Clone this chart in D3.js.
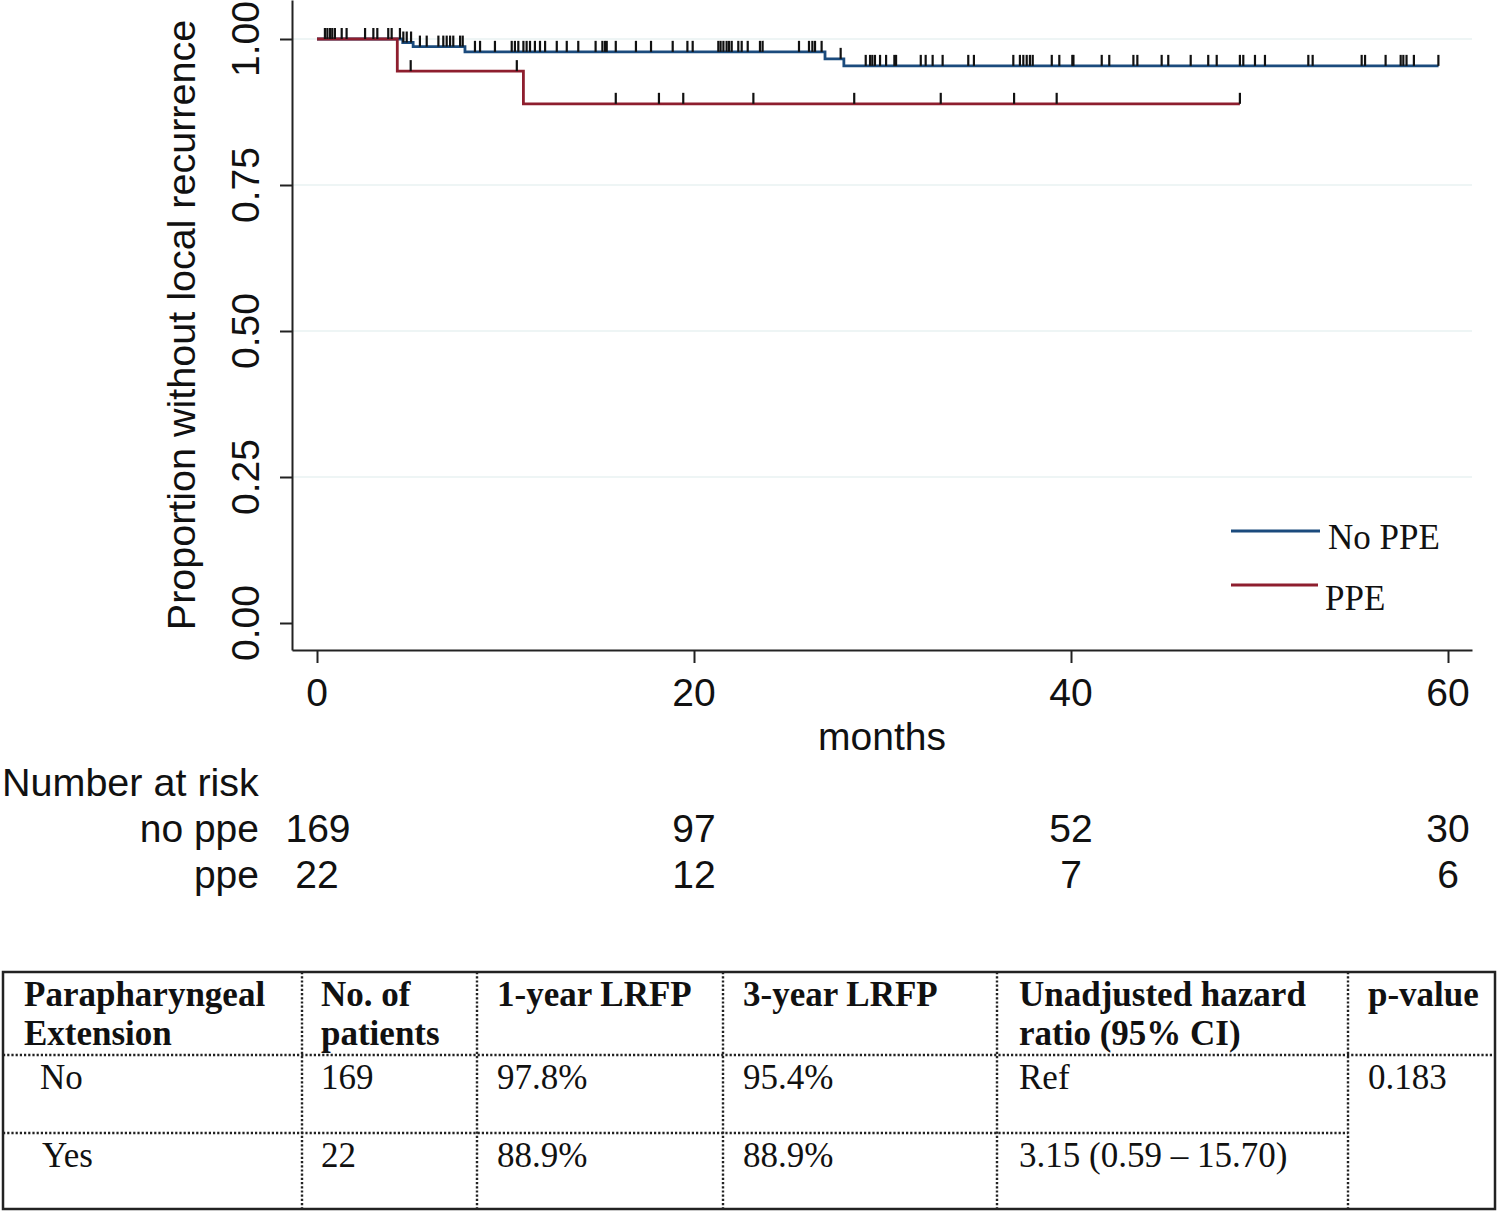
<!DOCTYPE html>
<html><head><meta charset="utf-8">
<script src="https://cdn.jsdelivr.net/npm/d3@7"></script>
<style>
html,body{margin:0;padding:0;background:#fff;}
svg{display:block;}
.sans{font-family:"Liberation Sans",Arial,Helvetica,sans-serif;}
.serif{font-family:"Liberation Serif","Times New Roman",serif;}
</style></head>
<body>
<svg id="chart" width="1500" height="1215"></svg>
<script>
// ---------- data ----------
const xTicks = [0, 20, 40, 60];
const yTicks = [0, 0.25, 0.5, 0.75, 1];
const yTickLabels = ["0.00", "0.25", "0.50", "0.75", "1.00"];
// step changes [month, survival]
const noPpeSteps = [[0, 1], [4.55, 0.994], [5.1, 0.987], [7.85, 0.978], [26.95, 0.966], [27.95, 0.954]];
const noPpeEnd = 59.5;
const ppeSteps = [[0, 1], [4.26, 0.945], [10.95, 0.889]];
const ppeEnd = 48.96;
const noPpeCensored = [0.42,0.55,0.69,0.81,0.95,1.31,1.57,2.55,2.99,3.2,3.78,3.96,4.4,4.58,4.76,4.99,5.46,5.82,6.44,6.7,6.88,7.06,7.23,7.59,7.73,8.38,8.65,9.44,10.33,10.5,10.68,10.95,11.12,11.3,11.56,11.83,12.1,12.72,13.25,13.86,14.78,15.14,15.28,15.37,15.85,16.92,17.72,18.87,19.65,19.93,21.29,21.41,21.56,21.73,21.86,22.0,22.35,22.53,22.85,23.5,23.64,25.57,26.1,26.28,26.42,26.77,27.78,29.11,29.34,29.46,29.6,29.87,30.19,30.63,30.72,32.03,32.29,32.66,33.19,34.55,34.85,36.94,37.29,37.47,37.65,37.82,37.97,38.98,39.38,40.07,40.13,41.63,42.03,43.31,43.52,44.81,45.16,46.35,47.28,47.73,48.96,49.14,49.76,50.29,52.59,52.82,55.42,55.6,56.69,57.49,57.63,57.8,58.19,59.49];
const ppeCensored = [4.97, 10.6, 15.85, 18.14, 19.43, 23.15, 28.5, 33.09, 36.98, 39.24, 48.96];
const seriesNames = ["No PPE", "PPE"];
const riskTimes = [0, 20, 40, 60];
const riskRowLabels = ["no ppe", "ppe"];
const riskNoPpe = [169, 97, 52, 30];
const riskPpe = [22, 12, 7, 6];
const tableHeader = [["Parapharyngeal", "Extension"], ["No. of", "patients"], ["1-year LRFP"], ["3-year LRFP"], ["Unadjusted hazard", "ratio (95% CI)"], ["p-value"]];
const tableRowNames = ["No", "Yes"];
const tablePatients = ["169", "22"];
const tableLrfp1 = ["97.8%", "88.9%"];
const tableLrfp3 = ["95.4%", "88.9%"];
const tableHR = ["Ref", "3.15 (0.59 \u2013 15.70)"];
const tablePValue = "0.183";

// ---------- layout ----------
const svg = d3.select("#chart");
const colBlue = "#1b4b7d", colRed = "#8e1e2e";
const axisLeftX = 292, axisBottomY = 650, axisRightX = 1472;
const x = d3.scaleLinear().domain([-25/18.85, (1472-317)/18.85]).range([axisLeftX, axisRightX]);
const y = d3.scaleLinear().domain([-(650-623)/584, 1 + 39/584]).range([axisBottomY, 0]);

// gridlines
svg.append("g").selectAll("line").data(yTicks.filter(d => d > 0)).join("line")
  .attr("x1", axisLeftX + 1).attr("x2", axisRightX)
  .attr("y1", d => y(d)).attr("y2", d => y(d))
  .attr("stroke", "#e8f2f2").attr("stroke-width", 1.5);

// axes
const yAxis = d3.axisLeft(y).tickValues(yTicks).tickSizeInner(12).tickSizeOuter(0).tickFormat("");
const gy = svg.append("g").attr("transform", `translate(${axisLeftX},0)`).call(yAxis);
const xAxis = d3.axisBottom(x).tickValues(xTicks).tickSizeInner(13).tickSizeOuter(0).tickFormat("");
const gx = svg.append("g").attr("transform", `translate(0,${axisBottomY})`).call(xAxis);
[gx, gy].forEach(g => { g.selectAll("path,line").attr("stroke", "#222").attr("stroke-width", 2); });

// y tick labels (rotated)
svg.append("g").selectAll("text").data(yTicks).join("text")
  .attr("class", "sans")
  .attr("transform", d => `translate(259,${y(d)}) rotate(-90)`)
  .attr("text-anchor", "middle").attr("font-size", 39).attr("fill", "#111")
  .text((d, i) => yTickLabels[i]);
// x tick labels
svg.append("g").selectAll("text").data(xTicks).join("text")
  .attr("class", "sans").attr("x", d => x(d)).attr("y", 706)
  .attr("text-anchor", "middle").attr("font-size", 39).attr("fill", "#111")
  .text(d => d);
// axis titles
svg.append("text").attr("class", "sans")
  .attr("transform", `translate(195,325) rotate(-90)`)
  .attr("text-anchor", "middle").attr("font-size", 39.5).attr("fill", "#111")
  .text("Proportion without local recurrence");
svg.append("text").attr("class", "sans").attr("x", (axisLeftX + axisRightX) / 2).attr("y", 750)
  .attr("text-anchor", "middle").attr("font-size", 39).attr("fill", "#111").text("months");

// survival curves
function stepData(steps, end) { return steps.concat([[end, steps[steps.length - 1][1]]]); }
function survAt(steps, t) { let s = 1; for (const [tt, v] of steps) { if (tt <= t) s = v; } return s; }
const line = d3.line().x(d => x(d[0])).y(d => y(d[1])).curve(d3.curveStepAfter);

const series = [
  {steps: noPpeSteps, end: noPpeEnd, cens: noPpeCensored, color: colBlue},
  {steps: ppeSteps, end: ppeEnd, cens: ppeCensored, color: colRed}
];
series.forEach(s => {
  svg.append("path").datum(stepData(s.steps, s.end))
    .attr("d", line).attr("fill", "none").attr("stroke", s.color).attr("stroke-width", 2.8);
});
series.forEach(s => {
  svg.append("g").selectAll("line").data(s.cens).join("line")
    .attr("x1", d => x(d)).attr("x2", d => x(d))
    .attr("y1", d => y(survAt(s.steps, d))).attr("y2", d => y(survAt(s.steps, d)) - 11)
    .attr("stroke", "#111").attr("stroke-width", 2.2);
});

// legend
const legend = svg.append("g");
[[531, 549, 1320, 1328], [585, 610, 1318, 1325]].forEach((p, i) => {
  legend.append("line").attr("x1", 1231).attr("x2", p[2]).attr("y1", p[0]).attr("y2", p[0])
    .attr("stroke", i === 0 ? colBlue : colRed).attr("stroke-width", 2.8);
  legend.append("text").attr("class", "serif").attr("x", p[3]).attr("y", p[1])
    .attr("font-size", 35).attr("fill", "#111").text(seriesNames[i]);
});

// number at risk
svg.append("text").attr("class", "sans").attr("x", 2).attr("y", 796)
  .attr("font-size", 39.5).attr("fill", "#111").text("Number at risk");
[riskNoPpe, riskPpe].forEach((row, i) => {
  const yy = 842 + i * 46;
  svg.append("text").attr("class", "sans").attr("x", 259).attr("y", yy)
    .attr("text-anchor", "end").attr("font-size", 39).attr("fill", "#111").text(riskRowLabels[i]);
  svg.append("g").selectAll("text").data(row).join("text")
    .attr("class", "sans").attr("x", (d, j) => x(riskTimes[j]) + (j === 0 && i === 0 ? 1 : 0)).attr("y", yy)
    .attr("text-anchor", "middle").attr("font-size", 39).attr("fill", "#111").text(d => d);
});

// table
const tbl = svg.append("g");
const colX = [3, 302, 477, 723, 997, 1348, 1495];
const rowY = [972, 1055, 1133, 1209];
const dot = {stroke: "#222", "stroke-width": 2.4, "stroke-dasharray": "2.2,2"};
function dl(x1, y1, x2, y2) {
  const l = tbl.append("line").attr("x1", x1).attr("y1", y1).attr("x2", x2).attr("y2", y2);
  Object.entries(dot).forEach(([k, v]) => l.attr(k, v));
}
for (let c = 1; c < colX.length - 1; c++) dl(colX[c], rowY[0], colX[c], rowY[3]);
dl(colX[0], rowY[1], colX[6], rowY[1]);
dl(colX[0], rowY[2], colX[5], rowY[2]);
tbl.append("rect").attr("x", colX[0]).attr("y", rowY[0]).attr("width", colX[6] - colX[0]).attr("height", rowY[3] - rowY[0])
  .attr("fill", "none").attr("stroke", "#222").attr("stroke-width", 2.5);
const textX = [24, 321, 497, 743, 1019, 1368];
tableHeader.forEach((lines, c) => {
  lines.forEach((t, k) => {
    tbl.append("text").attr("class", "serif").attr("x", textX[c]).attr("y", 1006 + k * 39)
      .attr("font-size", 35).attr("font-weight", "bold").attr("fill", "#111").text(t);
  });
});
const bodyBase = [1089, 1167];
const bodyCols = [tablePatients, tableLrfp1, tableLrfp3, tableHR];
tableRowNames.forEach((nm, r) => {
  tbl.append("text").attr("class", "serif").attr("x", r === 0 ? 40 : 42).attr("y", bodyBase[r])
    .attr("font-size", 35).attr("fill", "#111").text(nm);
  bodyCols.forEach((col, c) => {
    tbl.append("text").attr("class", "serif").attr("x", textX[c + 1]).attr("y", bodyBase[r])
      .attr("font-size", 35).attr("fill", "#111").text(col[r]);
  });
});
tbl.append("text").attr("class", "serif").attr("x", textX[5]).attr("y", bodyBase[0])
  .attr("font-size", 35).attr("fill", "#111").text(tablePValue);
</script>
</body></html>
